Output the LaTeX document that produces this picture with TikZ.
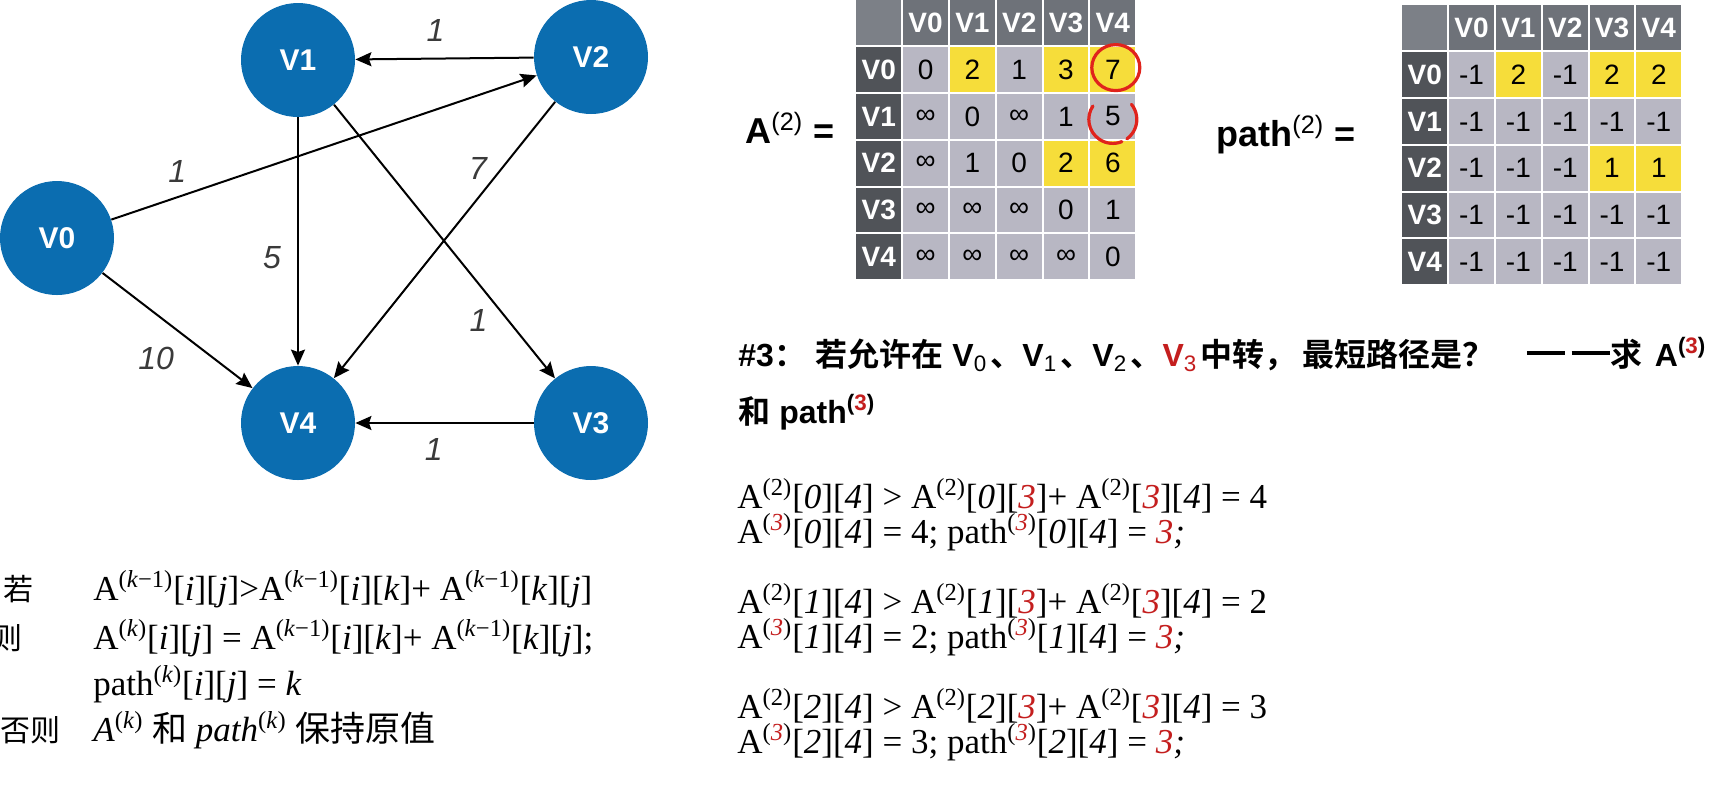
\documentclass[tikz,border=0pt]{standalone}
\usepackage{fontspec}
\setmainfont{Liberation Serif}
\setsansfont{Liberation Sans}
\newfontfamily\cjk{Noto Sans CJK SC}[BoldFont={* Bold}]
\usepackage{tikz}
\usetikzlibrary{arrows.meta, matrix}
\usepackage{xcolor}
\definecolor{vblue}{HTML}{0B6DB0}
\definecolor{hdgray}{HTML}{6E7279}
\definecolor{rhgray}{HTML}{505358}
\definecolor{cngray}{HTML}{7C8087}
\definecolor{cellgray}{HTML}{B8B7C3}
\definecolor{hlyellow}{HTML}{F6DD3A}
\definecolor{redpen}{HTML}{E0231C}
\definecolor{idxred}{HTML}{C41E1E}
\definecolor{lblgray}{HTML}{3A3A3A}
\newcommand{\ri}[1]{\textcolor{idxred}{\textit{#1}}}
\newcommand{\kk}{\textit{k}}
\newcommand{\dash}{\rule[0.33em]{1.2em}{0.13em}}

\begin{document}
\begin{tikzpicture}[x=0.5pt, y=-0.5pt,
            vtx/.style={circle, fill=vblue, minimum size=57pt, inner sep=0pt,
                        text=white, font=\sffamily\bfseries\fontsize{15}{15}\selectfont},
            arr/.style={-{Stealth[length=8pt, width=7pt, inset=1.2pt]}, line width=1pt},
            wlbl/.style={inner sep=0pt, text=lblgray,
                         font=\sffamily\itshape\fontsize{16}{16}\selectfont},
            cell/.style={minimum width=22.4pt, minimum height=22.4pt, inner sep=0pt,
                         anchor=center, fill=cellgray, font=\sffamily\fontsize{14}{14}\selectfont},
            hd/.style={fill=hdgray, text=white, font=\sffamily\bfseries\fontsize{14}{14}\selectfont},
            rh/.style={fill=rhgray, text=white, font=\sffamily\bfseries\fontsize{14}{14}\selectfont},
            yel/.style={fill=hlyellow},
            mtx/.style={matrix of nodes, nodes in empty cells, nodes={cell},
                        column sep=1pt, row sep=1pt, inner sep=0pt, anchor=north west,
                        row 1/.style={nodes={hd}}, column 1/.style={nodes={rh}},
                        row 1 column 1/.style={nodes={fill=cngray}}},
            eqlbl/.style={anchor=base west, inner sep=0pt,
                          font=\sffamily\bfseries\fontsize{18}{18}\selectfont},
            head/.style={anchor=base west, inner sep=0pt,
                         font=\sffamily\bfseries\fontsize{16}{16}\selectfont},
            frm/.style={anchor=base west, inner sep=0pt, font=\fontsize{17.5}{17.5}\selectfont},
            cjkt/.style={anchor=base west, inner sep=0pt, font=\cjk\fontsize{15}{15}\selectfont},
            pen/.style={draw=redpen, line width=1.6pt, line cap=round}
          ]
          \path[use as bounding box, fill=white] (0,0) rectangle (1717,784);
          \clip (0,0) rectangle (1717,784);

          % graph
          \node[vtx] (v0) at (57,238) {V0};
          \node[vtx] (v1) at (298,60) {V1};
          \node[vtx] (v2) at (591,57) {V2};
          \node[vtx] (v3) at (591,423) {V3};
          \node[vtx] (v4) at (298,423) {V4};
          \draw[arr] (v2) -- node[wlbl, pos=.55, yshift=14pt] {1} (v1);
          \draw[arr] (v0) -- node[wlbl, pos=.155, yshift=13pt] {1} (v2);
          \draw[arr] (v1) -- node[wlbl, pos=.565, xshift=-13pt] {5} (v4);
          \draw[arr] (v2) -- node[wlbl, pos=.24, xshift=-12pt] {7} (v4);
          \draw[arr] (v1) -- node[wlbl, pos=.79, xshift=-15pt] {1} (v3);
          \draw[arr] (v0) -- node[wlbl, pos=.357, yshift=-22pt] {10} (v4);
          \draw[arr] (v3) -- node[wlbl, pos=.56, yshift=-13pt] {1} (v4);

          % matrices
          \node[eqlbl] (aeq) at (745,143) {A\textsuperscript{\mdseries(2)} =};
          \matrix (A) [mtx] at (856,0) {
            & V0 & V1 & V2 & V3 & V4 \\
            V0 & 0 & |[yel]| 2 & 1 & |[yel]| 3 & |[yel]| 7 \\
            V1 & ∞ & 0 & ∞ & 1 & 5 \\
            V2 & ∞ & 1 & 0 & |[yel]| 2 & |[yel]| 6 \\
            V3 & ∞ & ∞ & ∞ & 0 & 1 \\
            V4 & ∞ & ∞ & ∞ & ∞ & 0 \\
          };
          \draw[pen] ([shift={(1.5pt,1pt)}]A-2-6.center) ellipse [x radius=12pt, y radius=11.5pt];
          \draw[pen] ([shift={(146:12pt)}]A-3-6.center) ++(0,3) arc[start angle=146, end angle=292, radius=12pt];
          \draw[pen] ([shift={(39:12pt)}]A-3-6.center) ++(0,3) arc[start angle=39, end angle=-54, radius=12pt];

          \node[eqlbl] (peq) at (1216,146) {path\textsuperscript{\mdseries(2)} =};
          \matrix (P) [mtx] at (1402,5) {
            & V0 & V1 & V2 & V3 & V4 \\
            V0 & -1 & |[yel]| 2 & -1 & |[yel]| 2 & |[yel]| 2 \\
            V1 & -1 & -1 & -1 & -1 & -1 \\
            V2 & -1 & -1 & -1 & |[yel]| 1 & |[yel]| 1 \\
            V3 & -1 & -1 & -1 & -1 & -1 \\
            V4 & -1 & -1 & -1 & -1 & -1 \\
          };

          % question
          \node[head] (q1) at (738,366) {\#3{\cjk ：}\hspace{0.3em}{\cjk 若允许在} V\textsubscript{\mdseries 0}\hspace{0.1em}{\cjk 、}V\textsubscript{\mdseries 1}\hspace{0.1em}{\cjk 、}V\textsubscript{\mdseries 2}\hspace{0.1em}{\cjk 、}\textcolor{idxred}{V\textsubscript{\mdseries 3}}\hspace{0.1em}{\cjk 中转，}\hspace{0.2em}{\cjk 最短路径是？}\hspace{1em}\dash\hspace{0.2em}\dash{\cjk 求}\hspace{0.4em}A\textsuperscript{(\textcolor{idxred}{3})}};
          \node[head] (q2) at (738,423) {{\cjk 和} path\textsuperscript{(\textcolor{idxred}{3})}};

          % rule
          \node[cjkt] (ruo) at (3,600) {若};
          \node[frm] (c1) at (93,600) {A\textsuperscript{(\kk−1)}[\textit{i}][\textit{j}]>A\textsuperscript{(\kk−1)}[\textit{i}][\kk]+ A\textsuperscript{(\kk−1)}[\kk][\textit{j}]};
          \node[cjkt] (ze) at (-8,649) {则};
          \node[frm] (c2) at (93,649) {A\textsuperscript{(\kk)}[\textit{i}][\textit{j}] = A\textsuperscript{(\kk−1)}[\textit{i}][\kk]+ A\textsuperscript{(\kk−1)}[\kk][\textit{j}];};
          \node[frm] (c3) at (93,695) {path\textsuperscript{(\kk)}[\textit{i}][\textit{j}] = \kk};
          \node[cjkt] (fz) at (0,741) {否则};
          \node[frm] (c4) at (93,741) {\textit{A}\textsuperscript{(\kk)} {\cjk 和} \textit{path}\textsuperscript{(\kk)} {\cjk 保持原值}};

          % steps for k = 3
          \node[frm] (s1) at (737,508) {A\textsuperscript{(2)}[\textit{0}][\textit{4}] > A\textsuperscript{(2)}[\textit{0}][\ri{3}]+ A\textsuperscript{(2)}[\ri{3}][\textit{4}] = 4};
          \node[frm] (s2) at (737,543) {A\textsuperscript{(\ri{3})}[\textit{0}][\textit{4}] = 4; path\textsuperscript{(\ri{3})}[\textit{0}][\textit{4}] = \ri{3}\textit{;}};
          \node[frm] (s3) at (737,613) {A\textsuperscript{(2)}[\textit{1}][\textit{4}] > A\textsuperscript{(2)}[\textit{1}][\ri{3}]+ A\textsuperscript{(2)}[\ri{3}][\textit{4}] = 2};
          \node[frm] (s4) at (737,648) {A\textsuperscript{(\ri{3})}[\textit{1}][\textit{4}] = 2; path\textsuperscript{(\ri{3})}[\textit{1}][\textit{4}] = \ri{3}\textit{;}};
          \node[frm] (s5) at (737,718) {A\textsuperscript{(2)}[\textit{2}][\textit{4}] > A\textsuperscript{(2)}[\textit{2}][\ri{3}]+ A\textsuperscript{(2)}[\ri{3}][\textit{4}] = 3};
          \node[frm] (s6) at (737,753) {A\textsuperscript{(\ri{3})}[\textit{2}][\textit{4}] = 3; path\textsuperscript{(\ri{3})}[\textit{2}][\textit{4}] = \ri{3}\textit{;}};
        \end{tikzpicture}
\end{document}
